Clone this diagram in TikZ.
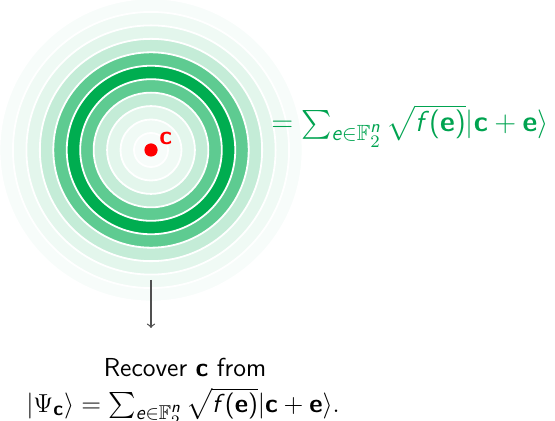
\RequirePackage{fix-cm}
\documentclass[tikz,border=0pt]{standalone}
\usepackage{amsmath,amssymb}
\DeclareMathSizes{13}{13}{10}{8}
\DeclareMathSizes{14.4}{14.4}{11}{8.8}
\definecolor{gdark}{RGB}{0,173,80}
\definecolor{gtext}{RGB}{0,163,80}
\newcommand{\svar}[1]{\text{\sffamily\itshape #1\/}}
\newcommand{\sbf}[1]{\text{\sffamily\bfseries #1}}
\newcommand{\sfp}[1]{\text{\sffamily #1}}
\newcommand{\myformula}{{\textstyle\sum}_{\svar{e}\in\mathbb{F}_2^{\svar{n}}}\,\sqrt{\svar{f}\sfp{(}\sbf{e}\sfp{)}}|\sbf{c}+\sbf{e}\rangle}
\begin{document}
\begin{tikzpicture}[x=0.5pt,y=-0.5pt,
  txt/.style={inner sep=0pt, font=\fontsize{13}{16}\selectfont\sffamily},
  bigtxt/.style={inner sep=0pt, font=\fontsize{14.4}{17}\selectfont\sffamily},
  gap/.style={white, line width=0.9pt},
  arr/.style={-to, line width=0.6pt, draw={rgb,255:red,80;green,80;blue,80}}]
\useasboundingbox (0,0) rectangle (555,421);
\coordinate (C) at (151,150);
\foreach \r/\p in {151.5/3, 138.05/6, 124.6/11, 111.15/23, 97.7/63, 84.25/100, 70.8/63, 57.35/23, 43.9/11, 30.45/6, 17/3} {
  \fill[gdark!\p] (C) circle[radius=\r*0.5pt];
  \draw[gap] (C) circle[radius=\r*0.5pt];
}
\fill[red] (C) circle[radius=3.3pt];
\node[txt, text=red, font=\fontsize{13}{16}\selectfont\sffamily\bfseries, anchor=base west] (clab) at (159,145) {c};
\node[bigtxt, text=gtext, anchor=base west] (eq) at (271,132) {$=\myformula$};
\coordinate (a1) at (151,280);
\coordinate (a2) at (151,328);
\draw[arr] (a1) -- (a2);
\node[txt, anchor=base] (rec) at (185,376) {Recover \textbf{c} from};
\node[txt, anchor=base] (psi) at (183,412) {$|\Psi_{\sbf{c}}\rangle=\myformula.$};
\end{tikzpicture}
\end{document}
